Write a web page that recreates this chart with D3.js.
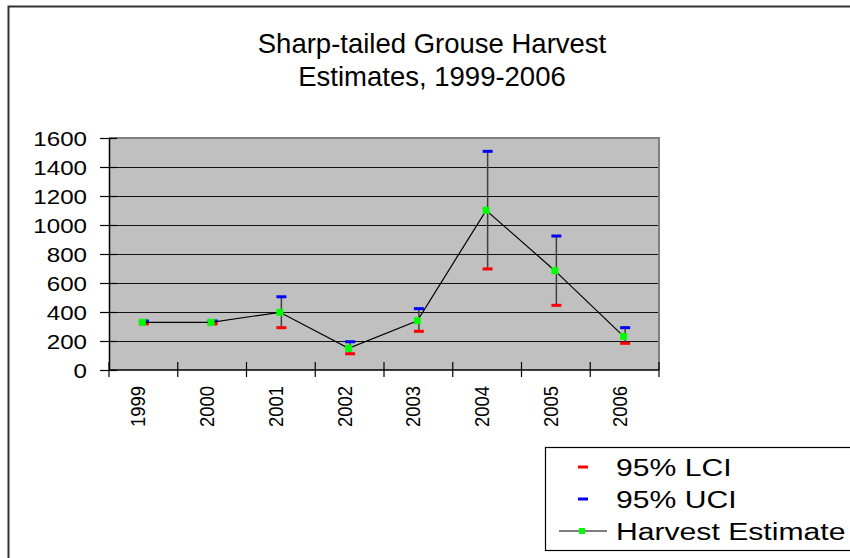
<!DOCTYPE html>
<html><head><meta charset="utf-8">
<script src="https://cdn.jsdelivr.net/npm/d3@7"></script>
<style>html,body{margin:0;padding:0;background:#fff;overflow:hidden}svg{display:block;font-family:"Liberation Sans",Arial,sans-serif}</style>
</head><body><svg id="c" width="850" height="558"></svg>
<script>
const years = ["1999","2000","2001","2002","2003","2004","2005","2006"];
const estimate = [329, 329, 398, 150, 340, 1101, 685, 232];
const uci = [338, 338, 505, 195, 423, 1508, 924, 292];
const lci = [318, 318, 292, 112, 267, 697, 446, 184];
const yTicks = [0, 200, 400, 600, 800, 1000, 1200, 1400, 1600];
const titleLines = ["Sharp-tailed Grouse Harvest", "Estimates, 1999-2006"];
const legendLabels = ["95% LCI", "95% UCI", "Harvest Estimate"];

const svg = d3.select("#c");
const L = 109, R = 659, T = 138, B = 370;
const x = d3.scaleBand().domain(years).range([L, R]).padding(0);
const y = d3.scaleLinear().domain([0, 1600]).range([B, T]);
const cx = d => x(d) + x.bandwidth() / 2;

// outer chart border
svg.append("rect").attr("x", 8.5).attr("y", 6.5).attr("width", 900).attr("height", 600)
  .attr("fill", "#fff").attr("stroke", "#333").attr("stroke-width", 2);

// title
svg.append("g").selectAll("text").data(titleLines).join("text")
  .attr("x", 432).attr("y", (d, i) => 53 + i * 32.5)
  .attr("text-anchor", "middle").attr("font-size", 27.5).attr("fill", "#000")
  .text(d => d);

// plot area
svg.append("rect").attr("x", L).attr("y", T).attr("width", R - L).attr("height", B - T)
  .attr("fill", "#c0c0c0");
// gridlines
svg.append("g").selectAll("line").data(yTicks.filter(v => v > 0 && v < 1600)).join("line")
  .attr("x1", L).attr("x2", R).attr("y1", d => y(d)).attr("y2", d => y(d))
  .attr("stroke", "#111").attr("stroke-width", 1).attr("shape-rendering", "crispEdges");
// top and right border
svg.append("path").attr("d", `M${L},${T}H${R}V${B}`)
  .attr("fill", "none").attr("stroke", "#808080").attr("stroke-width", 2);

// y axis
const yAxis = svg.append("g").attr("transform", `translate(${L},0)`)
  .call(d3.axisLeft(y).tickValues(yTicks).tickFormat(d3.format("d")).tickSize(8).tickSizeOuter(0));
yAxis.select(".domain").attr("stroke", "#000").attr("stroke-width", 1.5);
yAxis.selectAll(".tick line").attr("x1", -9).attr("x2", 8).attr("stroke", "#000").attr("stroke-width", 1.2);
yAxis.selectAll(".tick text")
  .attr("font-size", 21).attr("font-family", "Liberation Sans, Arial, sans-serif")
  .attr("fill", "#000").attr("text-anchor", "end")
  .attr("x", -22 / 1.15).attr("dy", 7.5)
  .attr("transform", "scale(1.15,1)");

// x axis
const xAxis = svg.append("g");
xAxis.append("line").attr("x1", L).attr("x2", R).attr("y1", B).attr("y2", B)
  .attr("stroke", "#000").attr("stroke-width", 1.5);
const bounds = years.map(d => x(d)).concat([x.range()[1]]);
xAxis.selectAll("line.tk").data(bounds).join("line").attr("class", "tk")
  .attr("x1", d => d).attr("x2", d => d).attr("y1", B - 8).attr("y2", B + 7)
  .attr("stroke", "#000").attr("stroke-width", 1.2);
xAxis.selectAll("text").data(years).join("text")
  .attr("transform", d => `translate(${cx(d) + 2},386) rotate(-90)`)
  .attr("text-anchor", "end").attr("font-size", 20.5).attr("fill", "#000")
  .attr("textLength", 41).attr("lengthAdjust", "spacingAndGlyphs")
  .text(d => d);

// error bars
const idx = d3.range(years.length);
svg.append("g").selectAll("line").data(idx).join("line")
  .attr("x1", i => cx(years[i]) + 0.5).attr("x2", i => cx(years[i]) + 0.5)
  .attr("y1", i => y(uci[i])).attr("y2", i => y(lci[i]))
  .attr("stroke", "#404040").attr("stroke-width", 1.5);
svg.append("g").selectAll("rect").data(idx).join("rect")
  .attr("x", i => cx(years[i]) - 4.5).attr("y", i => y(uci[i]) - 1.5)
  .attr("width", 10).attr("height", 3).attr("fill", "#0000ff");
svg.append("g").selectAll("rect").data(idx).join("rect")
  .attr("x", i => cx(years[i]) - 4.5).attr("y", i => y(lci[i]) - 1.5)
  .attr("width", 10).attr("height", 3).attr("fill", "#ff0000");

// estimate line
const line = d3.line().x((d, i) => cx(years[i]) - 1).y(d => y(d));
svg.append("path").datum(estimate).attr("d", line)
  .attr("fill", "none").attr("stroke", "#000").attr("stroke-width", 1.2);
svg.append("g").selectAll("rect").data(estimate).join("rect")
  .attr("x", (d, i) => cx(years[i]) - 4.5).attr("y", d => y(d) - 3.5)
  .attr("width", 7).attr("height", 7).attr("fill", "#00ff00");

// legend
const lg = svg.append("g");
lg.append("rect").attr("x", 545.5).attr("y", 447.5).attr("width", 330).attr("height", 103)
  .attr("fill", "#fff").attr("stroke", "#000").attr("stroke-width", 1.2);
const lgColors = ["#ff0000", "#0000ff"];
lg.selectAll("rect.sym").data(lgColors).join("rect").attr("class", "sym")
  .attr("x", 578).attr("y", (d, i) => 465.5 + i * 32).attr("width", 10).attr("height", 3)
  .attr("fill", d => d);
lg.append("line").attr("x1", 559).attr("x2", 607).attr("y1", 531).attr("y2", 531)
  .attr("stroke", "#000").attr("stroke-width", 1.2);
lg.append("rect").attr("x", 579).attr("y", 528).attr("width", 6).attr("height", 6).attr("fill", "#00ff00");
lg.selectAll("text").data(legendLabels).join("text")
  .attr("transform", (d, i) => `translate(616,${476 + i * 32}) scale(1.22,1)`)
  .attr("font-size", 24.7).attr("fill", "#000").text(d => d);
</script></body></html>
